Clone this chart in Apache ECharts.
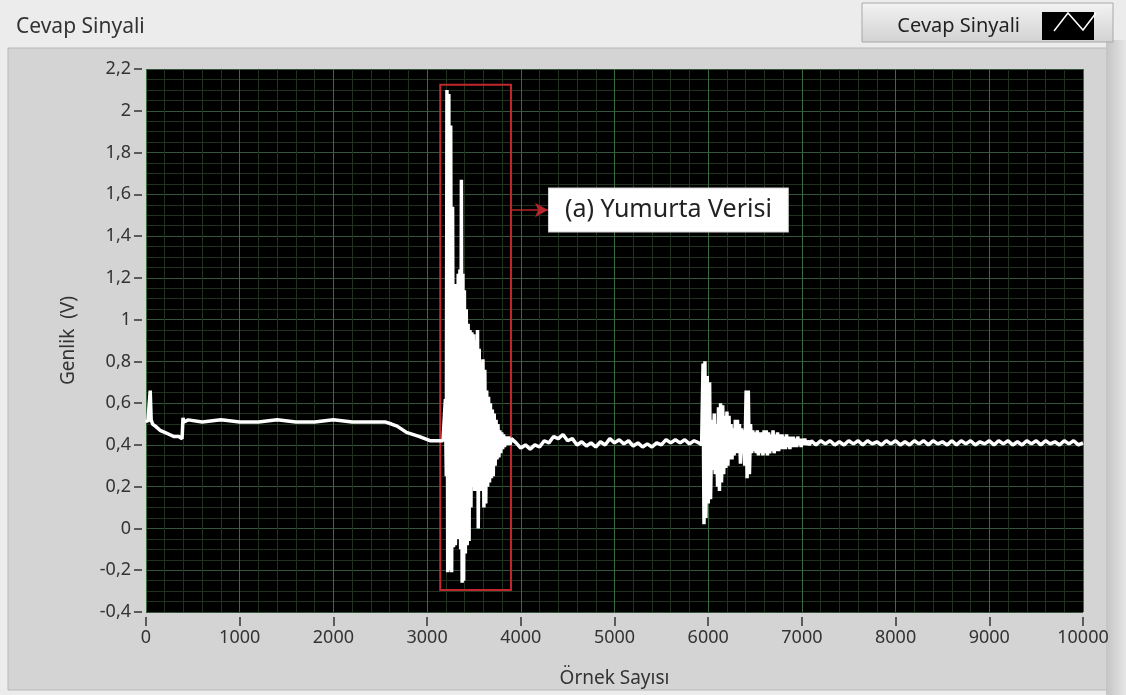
<!DOCTYPE html>
<html>
<head>
<meta charset="utf-8">
<script src="https://cdn.jsdelivr.net/npm/echarts@6/dist/echarts.min.js"></script>
<style>
  html, body { margin: 0; padding: 0; background: #ececec; }
  #chart { width: 1126px; height: 695px; }
</style>
</head>
<body>
<div id="chart"></div>
<script>
// eksen
var xTicks = [0, 1000, 2000, 3000, 4000, 5000, 6000, 7000, 8000, 9000, 10000];
var yTicks = [-0.4, -0.2, 0, 0.2, 0.4, 0.6, 0.8, 1, 1.2, 1.4, 1.6, 1.8, 2, 2.2];

// olay oncesi (0 - 3170)
var preSamples = [0, 20, 45, 55, 70, 100, 150, 200, 250, 300, 350, 385, 395, 405, 450, 600, 800, 1000, 1200, 1400, 1600, 1800, 2000, 2200, 2400, 2550, 2620, 2680, 2780, 2920, 3030, 3100, 3170];
var preValues = [0.52, 0.51, 0.66, 0.52, 0.50, 0.49, 0.47, 0.46, 0.45, 0.44, 0.44, 0.43, 0.53, 0.51, 0.52, 0.51, 0.52, 0.51, 0.51, 0.52, 0.51, 0.51, 0.52, 0.51, 0.51, 0.51, 0.50, 0.49, 0.46, 0.44, 0.42, 0.42, 0.42];

// (a) yumurta verisi - ust/alt uclar sirayla
var eventASamples = [3180, 3195, 3205, 3212, 3220, 3232, 3242, 3252, 3262, 3272, 3282, 3292, 3302, 3312, 3322, 3332, 3342, 3350, 3358, 3366, 3374, 3382, 3390, 3398, 3408, 3418, 3428, 3438, 3448, 3458, 3468, 3478, 3488, 3498, 3508, 3518, 3528, 3538, 3546, 3556, 3566, 3576, 3586, 3596, 3606, 3616, 3626, 3636, 3646, 3656, 3666, 3676, 3686, 3696, 3706, 3716, 3726, 3736, 3746, 3756, 3766, 3776, 3786, 3796, 3806, 3816, 3826, 3840, 3855, 3870, 3885, 3900];
var eventAValues = [0.42, 0.62, 0.25, 2.10, -0.21, 2.08, -0.20, 1.93, -0.21, 1.54, -0.09, 1.17, -0.08, 1.17, -0.05, 1.22, 0.07, 1.24, -0.10, 1.67, -0.26, 1.22, -0.25, 1.14, -0.12, 1.05, -0.08, 0.98, -0.06, 0.95, 0.10, 0.94, 0.20, 0.93, 0.18, 0.90, 0.20, 0.95, 0.00, 0.86, 0.20, 0.80, 0.18, 0.81, 0.10, 0.76, 0.12, 0.66, 0.20, 0.63, 0.22, 0.60, 0.24, 0.57, 0.25, 0.55, 0.30, 0.52, 0.33, 0.50, 0.34, 0.47, 0.36, 0.46, 0.38, 0.45, 0.39, 0.44, 0.40, 0.44, 0.40, 0.43];

// ara bolum
var midSamples = [3950, 4000, 4050, 4100, 4150, 4200, 4250, 4300, 4350, 4400, 4450, 4500, 4550, 4600, 4650, 4700, 4750, 4800, 4850, 4900, 4950, 5000, 5050, 5100, 5150, 5200, 5250, 5300, 5350, 5400, 5450, 5500, 5550, 5600, 5650, 5700, 5750, 5800, 5850, 5900];
var midValues = [0.41, 0.385, 0.40, 0.38, 0.40, 0.39, 0.42, 0.41, 0.44, 0.43, 0.45, 0.42, 0.43, 0.40, 0.415, 0.395, 0.41, 0.39, 0.415, 0.40, 0.43, 0.41, 0.425, 0.405, 0.42, 0.395, 0.41, 0.39, 0.405, 0.39, 0.41, 0.40, 0.425, 0.41, 0.425, 0.41, 0.425, 0.405, 0.42, 0.41];

// ikinci darbe
var eventBSamples = [5930, 5945, 5955, 5965, 5975, 5990, 6000, 6015, 6025, 6040, 6050, 6065, 6075, 6090, 6100, 6110, 6120, 6132, 6142, 6155, 6165, 6178, 6188, 6200, 6210, 6222, 6232, 6244, 6254, 6266, 6276, 6290, 6300, 6312, 6322, 6334, 6344, 6356, 6366, 6378, 6390, 6405, 6415, 6428, 6440,
  6452, 6464, 6476, 6488, 6500, 6512, 6524, 6536, 6548, 6560, 6572, 6584, 6596, 6608, 6620, 6632, 6644, 6656, 6668, 6680, 6692, 6704, 6716, 6728, 6740, 6752, 6764, 6776, 6788, 6800, 6812, 6824, 6836, 6848, 6860, 6872, 6884, 6896, 6908, 6920, 6932, 6944, 6956, 6968, 6980, 6992, 7004, 7016, 7030, 7045, 7060, 7080, 7100];
var eventBValues = [0.40, 0.79, 0.02, 0.80, 0.05, 0.73, 0.12, 0.70, 0.14, 0.52, 0.28, 0.55, 0.26, 0.50, 0.20, 0.58, 0.18, 0.60, 0.22, 0.59, 0.26, 0.54, 0.29, 0.56, 0.30, 0.54, 0.33, 0.50, 0.33, 0.48, 0.35, 0.52, 0.36, 0.52, 0.36, 0.50, 0.31, 0.48, 0.36, 0.47, 0.30, 0.66, 0.24, 0.66, 0.26,
  0.50, 0.36, 0.47, 0.37, 0.46, 0.36, 0.47, 0.35, 0.46, 0.36, 0.46, 0.35, 0.47, 0.36, 0.47, 0.35, 0.46, 0.36, 0.45, 0.37, 0.47, 0.36, 0.45, 0.37, 0.46, 0.37, 0.45, 0.38, 0.45, 0.38, 0.44, 0.38, 0.45, 0.39, 0.44, 0.38, 0.44, 0.39, 0.44, 0.39, 0.43, 0.39, 0.44, 0.40, 0.43, 0.39, 0.43, 0.40, 0.43, 0.40, 0.42, 0.40, 0.42];

// kuyruk
var tailSamples = [7150, 7200, 7250, 7300, 7350, 7400, 7450, 7500, 7550, 7600, 7650, 7700, 7750, 7800, 7850, 7900, 7950, 8000, 8050, 8100, 8150, 8200, 8250, 8300, 8350, 8400, 8450, 8500, 8550, 8600, 8650, 8700, 8750, 8800, 8850, 8900, 8950, 9000, 9050, 9100, 9150, 9200, 9250, 9300, 9350, 9400, 9450, 9500, 9550, 9600, 9650, 9700, 9750, 9800, 9850, 9900, 9950, 10000];
var tailValues = [0.40, 0.42, 0.405, 0.42, 0.40, 0.415, 0.40, 0.42, 0.405, 0.42, 0.40, 0.42, 0.405, 0.415, 0.40, 0.42, 0.405, 0.42, 0.40, 0.415, 0.40, 0.42, 0.405, 0.42, 0.40, 0.42, 0.405, 0.415, 0.40, 0.42, 0.40, 0.42, 0.405, 0.42, 0.40, 0.415, 0.405, 0.42, 0.40, 0.42, 0.405, 0.42, 0.40, 0.415, 0.40, 0.42, 0.405, 0.42, 0.40, 0.42, 0.405, 0.415, 0.40, 0.42, 0.405, 0.42, 0.40, 0.41];

// isaretli bolge ve etiket
var boxStart = [3140, 2.125];
var boxEnd = [3895, -0.295];
var arrowFrom = [3900, 1.525];
var arrowTo = [4290, 1.525];
var noteText = '(a) Yumurta Verisi';

function zip(xs, ys) {
  var out = [];
  for (var i = 0; i < xs.length; i++) out.push([xs[i], ys[i]]);
  return out;
}

var signal = [].concat(
  zip(preSamples, preValues),
  zip(eventASamples, eventAValues),
  zip(midSamples, midValues),
  zip(eventBSamples, eventBValues),
  zip(tailSamples, tailValues)
);

var FONT = 'Noto Sans';
var PANEL = '#d4d4d4';
var chart = echarts.init(document.getElementById('chart'));

var option = {
  backgroundColor: '#ececec',
  animation: false,
  textStyle: { fontFamily: FONT },
  title: {
    text: 'Cevap Sinyali',
    left: 11,
    top: 12,
    textStyle: { fontFamily: FONT, fontSize: 21, fontWeight: 'normal', color: '#333' }
  },
  graphic: [
    { type: 'rect', z: -10, shape: { x: 8, y: 48, width: 1100, height: 642 },
      style: { fill: PANEL, stroke: '#b8b8b8', lineWidth: 1 } },
    { type: 'rect', z: -10, shape: { x: 1106, y: 40, width: 20, height: 655 },
      style: { fill: new echarts.graphic.LinearGradient(0, 0, 1, 0, [
        { offset: 0, color: '#c4c4c4' }, { offset: 1, color: '#e6e6e6' }]) } },
    { type: 'rect', z: -10, shape: { x: 862, y: 3, width: 251, height: 39 },
      style: { fill: new echarts.graphic.LinearGradient(0, 0, 0, 1, [
        { offset: 0, color: '#f3f3f3' }, { offset: 1, color: '#d2d2d2' }]),
        stroke: '#a8a8a8', lineWidth: 1 } },
    { type: 'polyline', z: 100, shape: { points: [[1054, 31], [1068, 13], [1083, 30], [1096, 13]] },
      style: { stroke: '#ffffff', lineWidth: 1.5, fill: null } }
  ],
  legend: {
    right: 27,
    top: 7,
    align: 'right',
    itemWidth: 52,
    itemHeight: 28,
    data: [{ name: 'Cevap Sinyali', icon: 'rect', itemStyle: { color: '#000' } }],
    textStyle: { fontFamily: FONT, fontSize: 20, color: '#222', padding: [0, 17, 0, 0] },
    selectedMode: false
  },
  grid: {
    left: 146, right: 43, top: 69, bottom: 83,
    show: true, backgroundColor: '#000', borderWidth: 0
  },
  xAxis: {
    type: 'value',
    position: 'bottom',
    min: xTicks[0],
    max: xTicks[xTicks.length - 1],
    interval: 1000,
    offset: 5,
    name: 'Örnek Sayısı',
    nameLocation: 'middle',
    nameGap: 52,
    nameTextStyle: { fontFamily: FONT, fontSize: 19, color: '#333' },
    axisLine: { show: true, onZero: false, lineStyle: { color: PANEL, width: 0.5 } },
    axisTick: { show: true, inside: false, length: 9, lineStyle: { color: '#333', width: 1.5 } },
    axisLabel: {
      fontFamily: FONT, fontSize: 18, color: '#333', margin: 12,
      formatter: function (v) { return String(v); }
    },
    splitLine: { show: true, lineStyle: { color: '#3a6a3e', width: 1 } },
    minorTick: { show: false, splitNumber: 5 },
    minorSplitLine: { show: true, lineStyle: { color: '#21331f', width: 1 } }
  },
  yAxis: {
    type: 'value',
    position: 'left',
    min: yTicks[0],
    max: yTicks[yTicks.length - 1],
    interval: 0.2,
    offset: 4,
    name: 'Genlik  (V)',
    nameLocation: 'middle',
    nameGap: 64,
    nameTextStyle: { fontFamily: FONT, fontSize: 19, color: '#333' },
    axisLine: { show: true, onZero: false, lineStyle: { color: PANEL, width: 0.5 } },
    axisTick: { show: true, inside: false, length: 8, lineStyle: { color: '#333', width: 1.5 } },
    axisLabel: {
      fontFamily: FONT, fontSize: 18, color: '#333', margin: 11,
      formatter: function (v) { return String(+v.toFixed(1)).replace('.', ','); }
    },
    splitLine: { show: true, lineStyle: { color: '#34553a', width: 1 } },
    minorTick: { show: false, splitNumber: 4 },
    minorSplitLine: { show: true, lineStyle: { color: '#21331f', width: 1 } }
  },
  series: [{
    name: 'Cevap Sinyali',
    type: 'line',
    data: signal,
    symbol: 'none',
    showSymbol: false,
    sampling: null,
    lineStyle: { color: '#ffffff', width: 3.5 },
    itemStyle: { color: '#ffffff' },
    markArea: {
      silent: true,
      itemStyle: { color: 'rgba(0,0,0,0)', borderColor: '#c0282e', borderWidth: 2 },
      data: [[{ coord: boxStart }, { coord: boxEnd }]]
    },
    markLine: {
      silent: true,
      symbol: ['none', 'arrow'],
      symbolSize: [11, 13],
      lineStyle: { color: '#b4262b', width: 1.5, type: 'solid' },
      label: {
        show: true,
        position: 'end',
        distance: 1,
        formatter: noteText,
        fontFamily: FONT,
        fontSize: 25,
        color: '#222',
        backgroundColor: '#ffffff',
        borderColor: '#d0d0d0',
        borderWidth: 1,
        padding: [9, 16, 9, 16]
      },
      data: [[{ coord: arrowFrom }, { coord: arrowTo }]]
    }
  }]
};

chart.setOption(option);
</script>
</body>
</html>
